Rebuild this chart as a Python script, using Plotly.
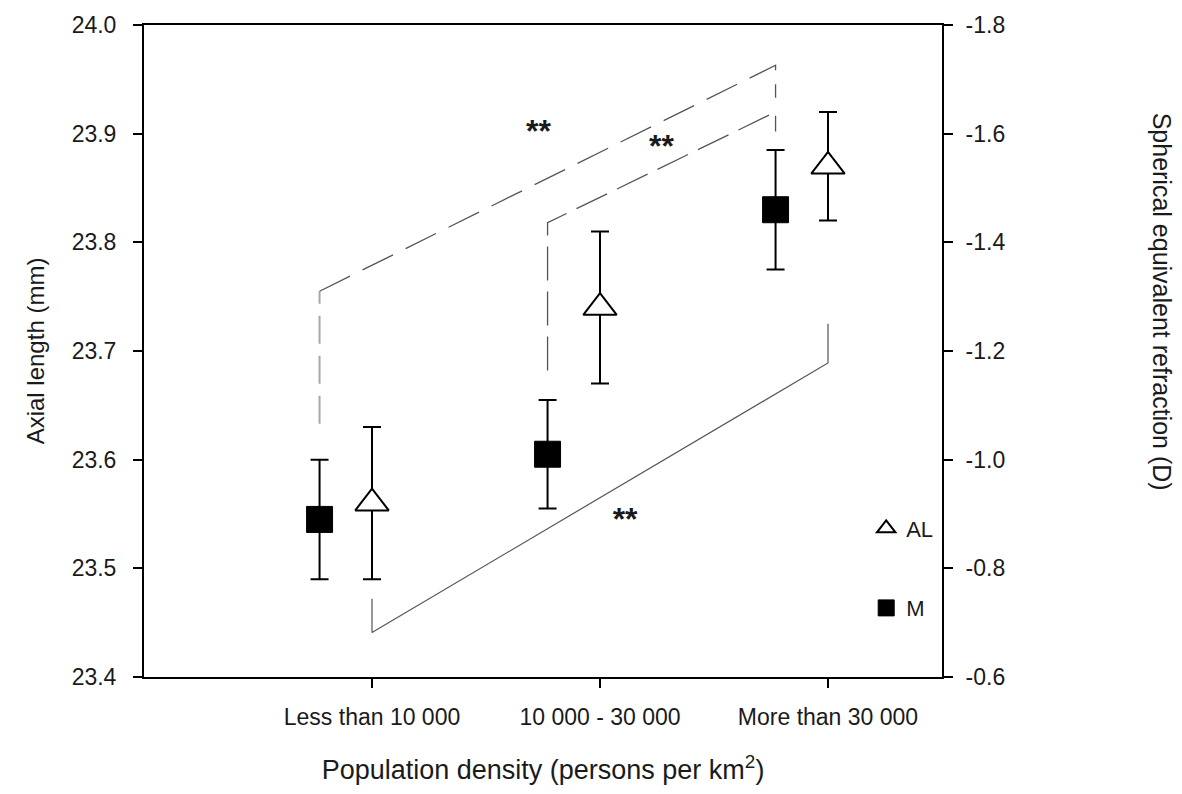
import plotly.graph_objects as go

# ---- data ----
categories = ["Less than 10 000", "10 000 - 30 000", "More than 30 000"]
cat_pos = [1, 2, 3]
m_pos = [0.77, 1.77, 2.77]
al_mean = [23.56, 23.74, 23.87]      # axial length (mm), left axis
al_err = [0.07, 0.07, 0.05]
m_mean = [-0.89, -1.01, -1.46]       # spherical equivalent refraction (D), right axis
m_err = [0.11, 0.10, 0.11]

left_ticks = [23.4, 23.5, 23.6, 23.7, 23.8, 23.9, 24.0]
left_labels = ["23.4", "23.5", "23.6", "23.7", "23.8", "23.9", "24.0"]
right_ticks = [-0.6, -0.8, -1.0, -1.2, -1.4, -1.6, -1.8]
right_labels = ["-0.6", "-0.8", "-1.0", "-1.2", "-1.4", "-1.6", "-1.8"]

# significance brackets (x in category units, y on left axis)
br_a_x = [0.77, 0.77, 2.77, 2.77]
br_a_y = [23.633, 23.755, 23.963, 23.933]
br_b_x = [1.77, 1.77, 2.77, 2.77]
br_b_y = [23.682, 23.818, 23.920, 23.902]
br_c_x = [1.0, 1.0, 3.0, 3.0]
br_c_y = [23.472, 23.441, 23.689, 23.725]
star_x = [1.73, 2.27, 2.11]
star_y = [23.900, 23.886, 23.543]

FONT = "Liberation Sans, Arial, sans-serif"
TXT = "#1a1a1a"

fig = go.Figure()

# brackets
fig.add_trace(go.Scatter(x=br_a_x[:2], y=br_a_y[:2], mode="lines", showlegend=False,
                         line=dict(color="#a8a8a8", width=2, dash="28px,12px"), hoverinfo="skip"))
fig.add_trace(go.Scatter(x=br_a_x[1:], y=br_a_y[1:], mode="lines", showlegend=False,
                         line=dict(color="#555555", width=1.3, dash="34px,14px"), hoverinfo="skip"))
fig.add_trace(go.Scatter(x=br_b_x, y=br_b_y, mode="lines", showlegend=False,
                         line=dict(color="#555555", width=1.3, dash="34px,11px"), hoverinfo="skip"))
fig.add_trace(go.Scatter(x=br_c_x, y=br_c_y, mode="lines", showlegend=False,
                         line=dict(color="#555555", width=1.2), hoverinfo="skip"))
fig.add_trace(go.Scatter(x=star_x, y=star_y, mode="text", text=["<b>**</b>"] * 3, showlegend=False,
                         textfont=dict(family=FONT, size=32, color=TXT), hoverinfo="skip"))

# AL (left axis)
fig.add_trace(go.Scatter(
    x=cat_pos, y=al_mean, mode="markers", name="AL", legendgroup="al",
    marker=dict(symbol="triangle-up", size=29, color="white", line=dict(color="black", width=2)),
    error_y=dict(type="data", array=al_err, color="black", thickness=2, width=9),
))
# M (right axis)
fig.add_trace(go.Scatter(
    x=m_pos, y=m_mean, mode="markers", name="M", legendgroup="m", yaxis="y2",
    marker=dict(symbol="square", size=26, color="black", line=dict(color="black", width=1)),
    error_y=dict(type="data", array=m_err, color="black", thickness=2, width=9),
))

axis_common = dict(showline=True, linecolor="black", linewidth=2,
                   ticks="outside", ticklen=9, tickwidth=2, tickcolor="black",
                   showgrid=False, zeroline=False, tickfont=dict(size=23))

fig.update_layout(
    width=1182, height=794,
    margin=dict(l=144, r=240, t=20, b=117),
    paper_bgcolor="white", plot_bgcolor="white",
    font=dict(family=FONT, color=TXT, size=22),
    xaxis=dict(range=[0, 3.5], tickvals=cat_pos, ticktext=categories, mirror=True,
               ticklabelstandoff=9,
               title=dict(text="Population density (persons per km<sup>2</sup>)",
                          font=dict(size=27), standoff=32),
               **axis_common),
    yaxis=dict(range=[23.4, 24.0], tickvals=left_ticks, ticktext=left_labels,
               ticklabelstandoff=12,
               title=dict(text="Axial length (mm)", font=dict(size=24), standoff=20),
               **axis_common),
    yaxis2=dict(range=[-0.6, -1.8], tickvals=right_ticks, ticktext=right_labels,
                overlaying="y", side="right", ticklabelstandoff=8,
                **axis_common),
    legend=dict(x=0.905, y=0.26, xanchor="left", yanchor="top",
                bgcolor="rgba(0,0,0,0)", font=dict(size=22),
                traceorder="grouped", tracegroupgap=48, itemsizing="trace"),
    showlegend=True,
)

fig.add_annotation(text="Spherical equivalent refraction (D)", textangle=90,
                   xref="paper", yref="paper", x=1.275, y=0.575,
                   xanchor="center", yanchor="middle",
                   showarrow=False, font=dict(size=25, color=TXT, family=FONT))

fig.write_html("out.html")
